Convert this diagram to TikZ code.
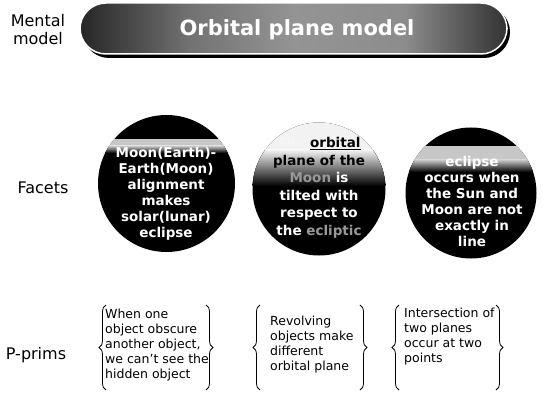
\documentclass[tikz,border=0pt]{standalone}
\usepackage{fontspec}
\setmainfont{DejaVu Sans}
\usetikzlibrary{decorations.pathreplacing,shadings}
\pgfdeclarehorizontalshading{bannershade}{100bp}{color(0bp)=(black!85); color(25bp)=(black!85); color(38bp)=(black!55); color(50bp)=(black!42); color(63bp)=(black!45); color(75bp)=(black!80); color(100bp)=(black!80)}
\tikzset{
  lab/.style={font=\fontsize{16}{18}\selectfont, align=center, inner sep=0pt},
  facet/.style={circle, inner sep=0pt, minimum size=#1, fill=black},
  facettext/.style={font=\fontsize{13.5}{16}\selectfont\bfseries, text=white, align=center, inner sep=0pt},
  prim/.style={font=\fontsize{12.5}{15}\selectfont, align=left, inner sep=0pt, anchor=west},
  bracestyle/.style={decorate, decoration={brace, amplitude=7pt, aspect=0.5}, line width=0.8pt}
}
\begin{document}
\begin{tikzpicture}[x=1pt,y=-1pt]
\useasboundingbox (0,0) rectangle (544,393);
% row labels
\node[lab] (mental) at (38,30) {Mental\\model};
\node[lab] (facets) at (43,188) {Facets};
\node[lab] (pprims) at (36,355) {P-prims};
% banner
\fill[black, rounded corners=26pt] (83,6) rectangle (510,58);
\path[shading=bannershade, draw=white, line width=1.5pt, rounded corners=26pt] (80,3) rectangle (507,54);
\node[font=\fontsize{21}{24}\selectfont\bfseries, text=white, inner sep=0pt] (title) at (297,30) {Orbital plane model};
% facets
\node[facet=137pt] (f1) at (166.5,183.5) {};
\begin{scope}
  \clip (166.5,183.5) circle (68.5);
  \fill[black!22] (90,139) rectangle (245,146);
  \fill[top color=black!22, bottom color=black] (90,146) rectangle (245,153);
\end{scope}
\node[facettext] (t1) at (166,194) {Moon(Earth)-\\Earth(Moon)\\alignment\\makes\\solar(lunar)\\eclipse};
\node[facet=133pt] (f2) at (319,189) {};
\begin{scope}
  \clip (319,189) circle (66.5);
  \fill[black!5] (245,115) rectangle (395,150);
  \fill[top color=black!5, middle color=black!35, bottom color=black] (245,150) rectangle (395,186);
\end{scope}
\node[facettext, font=\fontsize{13.5}{17.5}\selectfont\bfseries] (t2) at (319,188) {{\color{black!4}The} {\color{black}\underline{orbital}}\\{\color{black}plane of the}\\{\color{black!40}Moon} is\\tilted with\\respect to\\the {\color{black!40}ecliptic}};
\node[facet=131pt] (f3) at (471,193) {};
\begin{scope}
  \clip (471,193) circle (65.5);
  \fill[black!22] (400,146) rectangle (545,160);
  \fill[top color=black!22, bottom color=black] (400,160) rectangle (545,172);
\end{scope}
\node[facettext] (t3) at (472,201) {eclipse\\occurs when\\the Sun and\\Moon are not\\exactly in\\line};
% p-prims
\node[prim] (p1) at (105,345) {When one\\object obscure\\another object,\\we can't see the\\hidden object};
\node[prim] (p2) at (270,344.5) {Revolving\\objects make\\different\\orbital plane};
\node[prim] (p3) at (404,337) {Intersection of\\two planes\\occur at two\\points};
% brace anchors
\coordinate (b1l) at (106,390); \coordinate (b1lt) at (106,305);
\coordinate (b1r) at (206,305); \coordinate (b1rb) at (206,390);
\coordinate (b2l) at (260,390); \coordinate (b2lt) at (260,305);
\coordinate (b2r) at (360,305); \coordinate (b2rb) at (360,390);
\coordinate (b3l) at (399,390); \coordinate (b3lt) at (399,305);
\coordinate (b3r) at (496,305); \coordinate (b3rb) at (496,390);
\draw[bracestyle] (b1l) -- (b1lt);
\draw[bracestyle] (b1r) -- (b1rb);
\draw[bracestyle] (b2l) -- (b2lt);
\draw[bracestyle] (b2r) -- (b2rb);
\draw[bracestyle] (b3l) -- (b3lt);
\draw[bracestyle] (b3r) -- (b3rb);
\end{tikzpicture}
\end{document}
